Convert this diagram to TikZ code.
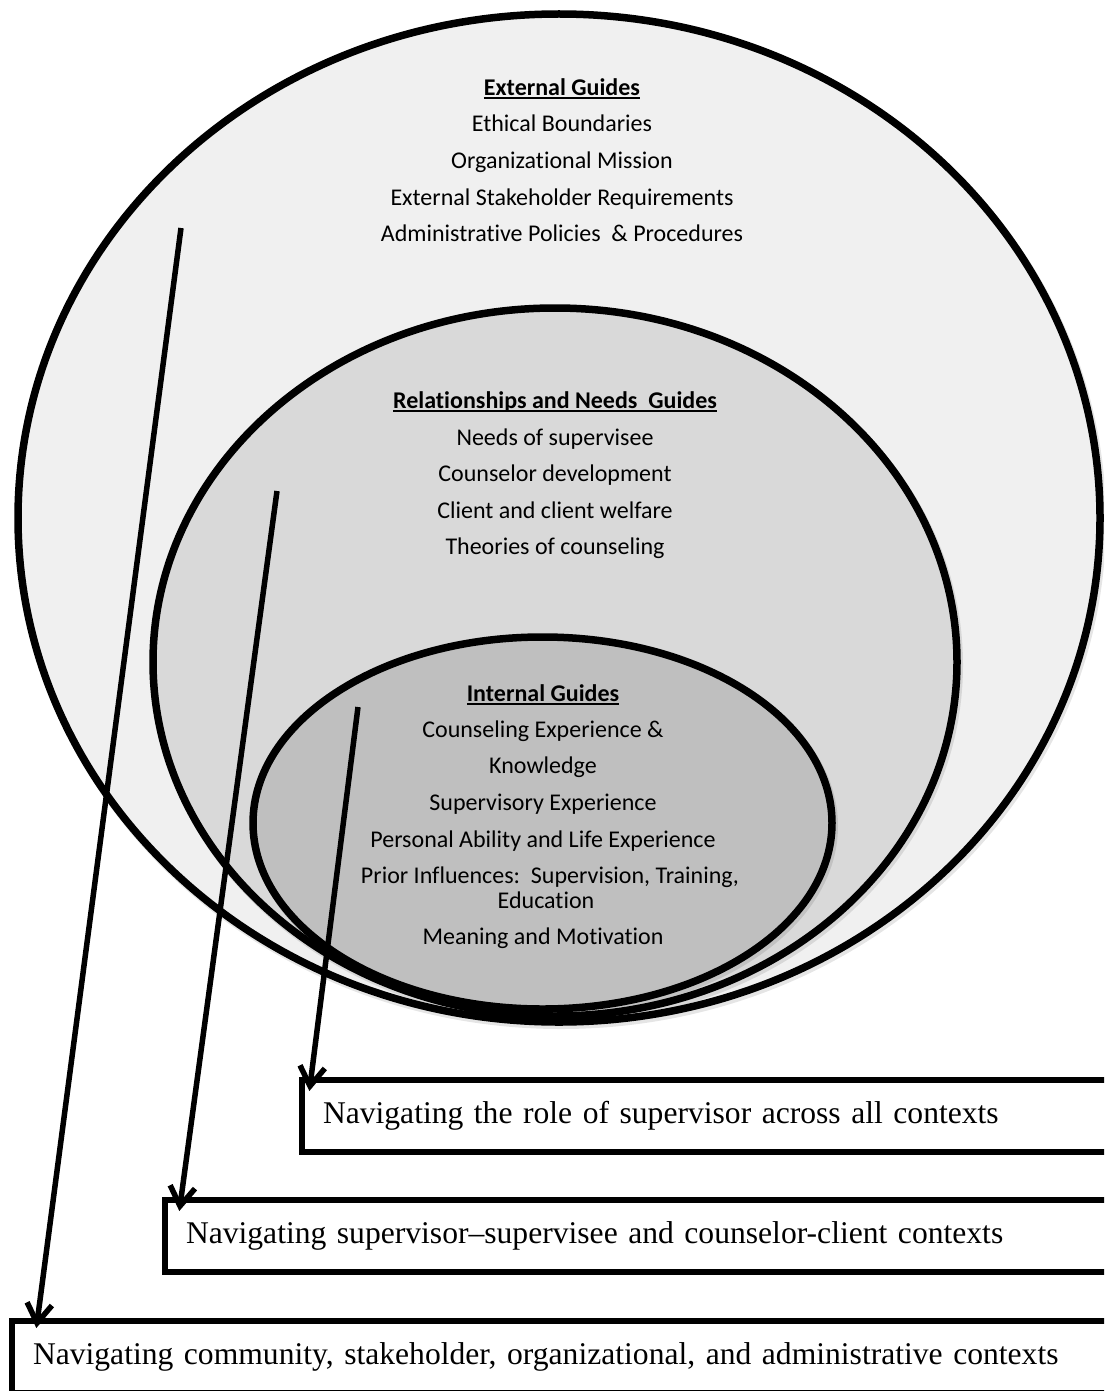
\documentclass[tikz,border=0pt]{standalone}
\usepackage{fontspec}
\setmainfont{Liberation Serif}
\newfontfamily\guidefont[Ligatures=NoCommon]{Carlito}
\usetikzlibrary{calc}

\definecolor{outerfill}{HTML}{F0F0F0}
\definecolor{midfill}{HTML}{D9D9D9}
\definecolor{innerfill}{HTML}{BFBFBF}

% bold heading with a thick underline
\newcommand{\guidehead}[1]{\setbox0=\hbox{\bfseries #1}\rlap{\rule[-3.8pt]{\wd0}{2.2pt}}\box0}

\begin{document}
\begin{tikzpicture}[x=1pt, y=-1pt,
  ring/.style={line width=7.5pt},
  shade/.style={line width=8pt, draw=black, draw opacity=0.10},
  guide/.style={font=\guidefont\fontsize{24}{29}\selectfont, anchor=base, inner sep=0pt},
  navbox/.style={draw, line width=6pt, anchor=north west, outer sep=0pt,
    minimum height=72pt, inner xsep=21pt, inner ysep=0pt, align=left,
    font=\fontsize{31.6}{38}\selectfont},
  flow/.style={line width=5.5pt},
  barb/.style={line width=5.5pt, line join=miter, line cap=butt}
]
\useasboundingbox (0,0) rectangle (1104,1391);
\clip (0,0) rectangle (1104,1391);

% centres of the three nested guide ellipses
\coordinate (outerc) at (559,518);
\coordinate (midc) at (555,662);
\coordinate (innerc) at (542.5,823);

% soft shadows under each ring
\draw[shade] ($(outerc)+(2,3)$) ellipse [x radius=541pt, y radius=504pt];
\draw[ring, fill=outerfill] (outerc) ellipse [x radius=541pt, y radius=504pt];
\draw[shade] ($(midc)+(2,3)$) ellipse [x radius=402pt, y radius=354pt];
\draw[ring, fill=midfill] (midc) ellipse [x radius=402pt, y radius=354pt];
\draw[shade] ($(innerc)+(2,3)$) ellipse [x radius=289.5pt, y radius=186pt];
\draw[ring, fill=innerfill] (innerc) ellipse [x radius=289.5pt, y radius=186pt];

% external guides
\node[guide] (ext0) at (562,95.5) {\guidehead{External Guides}};
\node[guide] (ext1) at (562,132) {Ethical Boundaries};
\node[guide] (ext2) at (562,168.5) {Organizational Mission};
\node[guide] (ext3) at (562,205) {External Stakeholder Requirements};
\node[guide] (ext4) at (562,241.7) {Administrative Policies\ \ \& Procedures};

% relationships and needs guides
\node[guide] (rel0) at (555,408) {\guidehead{Relationships and Needs\ \ Guides}};
\node[guide] (rel1) at (555,445) {Needs of supervisee};
\node[guide] (rel2) at (555,481.5) {Counselor development};
\node[guide] (rel3) at (555,518) {Client and client welfare};
\node[guide] (rel4) at (555,554) {Theories of counseling};

% internal guides
\node[guide] (int0) at (543,701) {\guidehead{Internal Guides}};
\node[guide] (int1) at (543,737) {Counseling Experience \&};
\node[guide] (int2) at (543,773.5) {Knowledge};
\node[guide] (int3) at (543,810) {Supervisory Experience};
\node[guide] (int4) at (543,847) {Personal Ability and Life Experience};
\node[guide] (int5) at (550,883) {Prior Influences:\ \ Supervision, Training,};
\node[guide] (int6) at (546,908.5) {Education};
\node[guide] (int7) at (543,944) {Meaning and Motivation};

% navigation contexts
\node[navbox, text width=781pt] (nav1) at (302,1080)
  {Navigating the role of supervisor across all contexts};
\node[navbox, text width=918pt] (nav2) at (165,1200)
  {Navigating supervisor--supervisee and counselor-client contexts};
\node[navbox, text width=1071pt] (nav3) at (12,1321)
  {Navigating community, stakeholder, organizational, and administrative contexts};

% arrows from each guide ring to its context
\coordinate (src1) at (181,228);
\coordinate (src2) at (277,491);
\coordinate (src3) at (358,707);
\coordinate (tip1) at ($(nav3.north west)+(25,2)$);
\coordinate (tip2) at ($(nav2.north west)+(15,6)$);
\coordinate (tip3) at ($(nav1.north west)+(8,6)$);
\draw[flow] (src1) -- (tip1);
\draw[flow] (src2) -- (tip2);
\draw[flow] (src3) -- (tip3);
\draw[barb] ($(tip1)!23pt!33:(src1)$) -- (tip1) -- ($(tip1)!23pt!-33:(src1)$);
\draw[barb] ($(tip2)!23pt!33:(src2)$) -- (tip2) -- ($(tip2)!23pt!-33:(src2)$);
\draw[barb] ($(tip3)!23pt!33:(src3)$) -- (tip3) -- ($(tip3)!23pt!-33:(src3)$);
\end{tikzpicture}
\end{document}
